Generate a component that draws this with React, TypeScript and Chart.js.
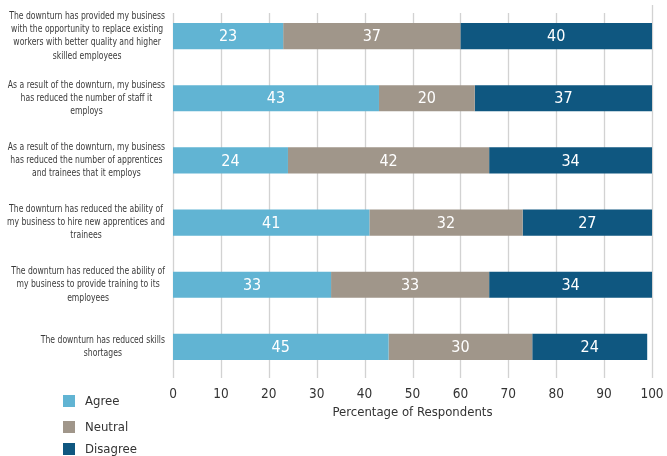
import React, { useEffect, useRef } from "react";
import { Chart, registerables } from "chart.js";

Chart.register(...registerables);

const statements: string[][] = [
  ["The downturn has provided my business", "with the opportunity to replace existing", "workers with better quality and higher", "skilled employees"],
  ["As a result of the downturn, my business", "has reduced the number of staff it", "employs"],
  ["As a result of the downturn, my business", "has reduced the number of apprentices", "and trainees that it employs"],
  ["The downturn has reduced the ability of", "my business to hire new apprentices and", "trainees"],
  ["The downturn has reduced the ability of", "my business to provide training to its", "employees"],
  ["The downturn has reduced skills", "shortages"],
];

const agree = [23, 43, 24, 41, 33, 45];
const neutral = [37, 20, 42, 32, 33, 30];
const disagree = [40, 37, 34, 27, 34, 24];

const seriesNames = ["Agree", "Neutral", "Disagree"];
const seriesColors = ["#61b4d3", "#a0968a", "#0f5780"];

const axisTitle = "Percentage of Respondents";
const FONT = "'DejaVu Sans Condensed', 'DejaVu Sans', sans-serif";
const TEXT = "#333333";

// Multi-line statement labels: each block right-aligned against the plot, lines centred within it
const statementLabels = {
  id: "statementLabels",
  afterDraw(chart: any) {
    const ctx = chart.ctx;
    const y = chart.scales.y;
    const lineH = 13.3;
    const rightEdge = 165;
    ctx.save();
    ctx.font = `10px ${FONT}`;
    const widest = Math.max(...statements.flat().map((l) => ctx.measureText(l).width));
    const sx = Math.min(1, 158 / widest);
    ctx.fillStyle = "#3a3a3a";
    ctx.textAlign = "center";
    ctx.textBaseline = "middle";
    statements.forEach((lines, i) => {
      const cy = y.getPixelForValue(i);
      const w = Math.max(...lines.map((l) => ctx.measureText(l).width)) * sx;
      const cx = rightEdge - w / 2;
      const y0 = cy - ((lines.length - 1) * lineH) / 2;
      lines.forEach((l, j) => {
        ctx.save();
        ctx.translate(cx, y0 + j * lineH);
        ctx.scale(sx, 1);
        ctx.fillText(l, 0, 0);
        ctx.restore();
      });
    });
    ctx.restore();
  },
};

// Vertical gridlines at every tick, drawn behind the bars
const gridLines = {
  id: "gridLines",
  beforeDatasetsDraw(chart: any) {
    const ctx = chart.ctx;
    const x = chart.scales.x;
    const area = chart.chartArea;
    ctx.save();
    ctx.strokeStyle = "#d2d2d2";
    ctx.lineWidth = 1.3;
    x.ticks.forEach((t: any) => {
      const px = Math.round(x.getPixelForValue(t.value)) + 0.5;
      const top = t.value === 100 ? area.top : area.top + 8;
      ctx.beginPath();
      ctx.moveTo(px, top);
      ctx.lineTo(px, area.bottom);
      ctx.stroke();
    });
    ctx.restore();
  },
};

// Value printed in the middle of each bar segment
const segmentValues = {
  id: "segmentValues",
  afterDatasetsDraw(chart: any) {
    const ctx = chart.ctx;
    ctx.save();
    ctx.font = `16px ${FONT}`;
    ctx.fillStyle = "#ffffff";
    ctx.textAlign = "center";
    ctx.textBaseline = "middle";
    chart.data.datasets.forEach((ds: any, di: number) => {
      const meta = chart.getDatasetMeta(di);
      meta.data.forEach((bar: any, i: number) => {
        const p = bar.getProps(["x", "y", "base"], true);
        ctx.fillText(String(ds.data[i]), (p.x + p.base) / 2, p.y + 1);
      });
    });
    ctx.restore();
  },
};

// Axis title and vertical legend below the plot
const bottomText = {
  id: "bottomText",
  afterDraw(chart: any) {
    const ctx = chart.ctx;
    const area = chart.chartArea;
    ctx.save();
    ctx.fillStyle = TEXT;
    ctx.font = `13px ${FONT}`;
    ctx.textAlign = "center";
    ctx.textBaseline = "middle";
    ctx.fillText(axisTitle, (area.left + area.right) / 2, 413);

    const tops = [395, 421, 443];
    ctx.textAlign = "left";
    seriesNames.forEach((name, i) => {
      ctx.fillStyle = seriesColors[i];
      ctx.fillRect(63, tops[i], 12, 12);
      ctx.fillStyle = TEXT;
      ctx.fillText(name, 85, tops[i] + 7);
    });
    ctx.restore();
  },
};

export default function App() {
  const canvasRef = useRef<HTMLCanvasElement | null>(null);

  useEffect(() => {
    if (!canvasRef.current) return;
    const chart = new Chart(canvasRef.current, {
      type: "bar",
      data: {
        labels: statements.map((s) => s.join(" ")),
        datasets: [agree, neutral, disagree].map((d, i) => ({
          label: seriesNames[i],
          data: d,
          backgroundColor: seriesColors[i],
          borderWidth: 0,
          categoryPercentage: 1,
          barPercentage: 0.42,
        })),
      },
      options: {
        indexAxis: "y",
        responsive: false,
        animation: false,
        layout: { padding: { top: 5, right: 15, left: 0, bottom: 0 } },
        plugins: {
          legend: { display: false },
          tooltip: { enabled: false },
        },
        scales: {
          x: {
            stacked: true,
            min: 0,
            max: 100,
            ticks: {
              stepSize: 10,
              padding: 0,
              color: TEXT,
              font: { family: FONT, size: 13.5 },
            },
            grid: { display: false },
            border: { display: false },
            afterFit(scale: any) {
              scale.height = 78;
              scale.paddingLeft = 0;
              scale.paddingRight = 0;
            },
          },
          y: {
            stacked: true,
            ticks: { display: false },
            grid: { display: false },
            border: { display: false },
            afterFit(scale: any) {
              scale.width = 173;
            },
          },
        },
      },
      plugins: [gridLines, statementLabels, segmentValues, bottomText],
    });
    return () => chart.destroy();
  }, []);

  return (
    <div style={{ position: "absolute", left: 0, top: 0, width: 667, height: 456, background: "#ffffff" }}>
      <canvas ref={canvasRef} width={667} height={456} style={{ display: "block" }} />
    </div>
  );
}
